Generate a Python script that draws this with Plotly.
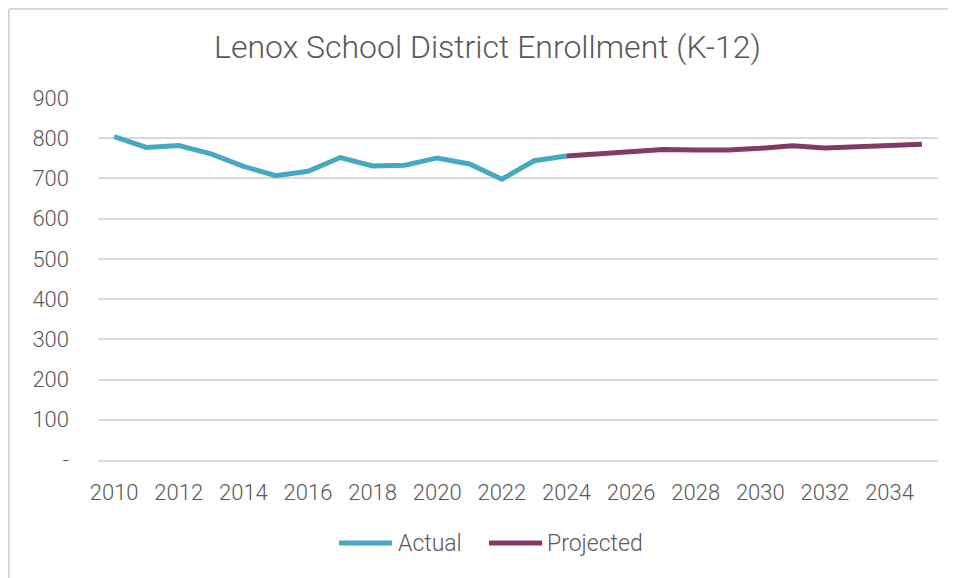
import plotly.graph_objects as go

actual_years = list(range(2010, 2025))
actual_values = [804, 777, 782, 761, 730, 707, 718, 752, 731, 733, 751, 736, 698, 744, 756]
proj_years = list(range(2024, 2036))
proj_values = [756, 762, 769, 772, 771, 771, 775, 781, 776, 778, 780, 785]
y_tickvals = [0, 100, 200, 300, 400, 500, 600, 700, 800, 900]
y_ticktext = ["-", "100", "200", "300", "400", "500", "600", "700", "800", "900"]

FONT = "Roboto"
GRAY = "#595959"
TEAL = "#46A9C3"
PURPLE = "#843A66"

# page body has an 8px margin; figure coordinates = reference pixel - 8
OFF = 8
W, H = 956 - OFF, 578 - OFF
L, T = 98 - OFF, 98 - OFF
pw, ph = 840, 362
R = W - L - pw
B = H - T - ph

def px_x(p):
    return (p - OFF - L) / pw

def px_y(p):
    return (H - B - (p - OFF)) / ph

fig = go.Figure()
fig.add_trace(go.Scatter(x=actual_years, y=actual_values, mode="lines", name="Actual",
                         line=dict(color=TEAL, width=5), showlegend=False))
fig.add_trace(go.Scatter(x=proj_years, y=proj_values, mode="lines", name="Projected",
                         line=dict(color=PURPLE, width=5), showlegend=False))

legend_y = px_y(543)
shapes = [
    dict(type="line", xref="paper", yref="paper", x0=px_x(9), x1=px_x(960),
         y0=px_y(9), y1=px_y(9), line=dict(color="#D9D9D9", width=2), layer="below"),
    dict(type="line", xref="paper", yref="paper", x0=px_x(9), x1=px_x(9),
         y0=px_y(9), y1=px_y(580), line=dict(color="#D9D9D9", width=2), layer="below"),
    dict(type="line", xref="paper", yref="paper", x0=px_x(339), x1=px_x(392),
         y0=legend_y, y1=legend_y, line=dict(color=TEAL, width=5)),
    dict(type="line", xref="paper", yref="paper", x0=px_x(489), x1=px_x(542),
         y0=legend_y, y1=legend_y, line=dict(color=PURPLE, width=5)),
]
annotations = [
    dict(text="Lenox School District Enrollment (K-12)", xref="paper", yref="paper",
         x=px_x(487.5), y=px_y(47), xanchor="center", yanchor="middle", showarrow=False,
         font=dict(size=32, color=GRAY, family=FONT, weight=300)),
    dict(text="Actual", xref="paper", yref="paper", x=px_x(396), y=legend_y,
         xanchor="left", yanchor="middle", showarrow=False,
         font=dict(size=23, color=GRAY, family=FONT, weight=300)),
    dict(text="Projected", xref="paper", yref="paper", x=px_x(545), y=legend_y,
         xanchor="left", yanchor="middle", showarrow=False,
         font=dict(size=23, color=GRAY, family=FONT, weight=300)),
]

fig.update_layout(
    width=W, height=H,
    margin=dict(l=L, r=R, t=T, b=B),
    paper_bgcolor="white", plot_bgcolor="white",
    font=dict(family=FONT, color=GRAY, weight=300),
    xaxis=dict(range=[2009.5, 2035.5], tickmode="linear", tick0=2010, dtick=2,
               showgrid=False, showline=True, linecolor="#D9D9D9", linewidth=1.5,
               ticks="", tickfont=dict(size=22, color=GRAY, family=FONT, weight=300),
               ticklabelstandoff=12, zeroline=False),
    yaxis=dict(range=[0, 900], tickvals=y_tickvals, ticktext=y_ticktext,
               showgrid=True, gridcolor="#D9D9D9", gridwidth=1.5, zeroline=False,
               ticks="", tickfont=dict(size=22, color=GRAY, family=FONT, weight=300),
               ticklabelstandoff=28),
    showlegend=False,
    shapes=shapes,
    annotations=annotations,
)

fig.write_html("out.html")
